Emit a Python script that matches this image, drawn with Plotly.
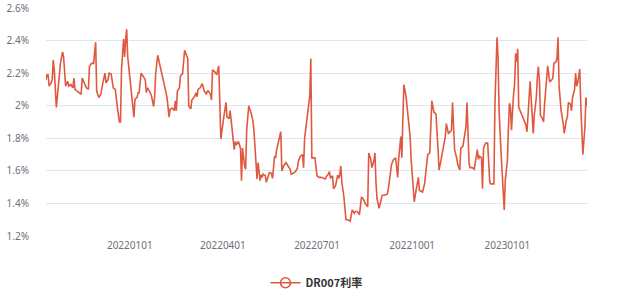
import pandas as pd
import plotly.graph_objects as go

# days since 2021-10-12 and DR007 rate (%)
base_date = "2021-10-12"
day_offsets = [
    0, 1, 2, 3, 5, 6, 7, 8, 10, 12, 14, 16, 17, 19, 21, 22, 24, 26, 27, 28,
    30, 33, 34, 35, 37, 39, 41, 42, 44, 46, 48, 49, 51, 53, 55, 57, 58, 60, 61, 63,
    65, 67, 69, 71, 72, 73, 75, 76, 77, 78, 79, 81, 83, 85, 86, 88, 89, 90, 92, 94,
    96, 97, 98, 99, 100,
    102, 104, 105, 106, 108, 110, 112, 114, 116, 117, 119, 120, 122, 124, 125, 126, 127, 129, 130, 132,
    134, 135, 137, 138, 139, 140, 141, 142, 144, 145, 146, 147, 149, 151, 153, 155, 156, 157, 159, 160,
    161, 163, 165, 167, 168, 169, 171, 172, 174, 175, 177, 178, 180, 182, 183, 184, 186, 188, 189, 190,
    192, 193, 194, 196, 198, 200, 201, 203, 204, 205, 207,
    208, 209, 210, 212, 213, 215, 216, 218, 219, 221, 222, 223, 225, 227, 228, 230, 232, 234, 236, 237,
    239, 241, 243, 244, 246, 248, 249, 250, 252, 253, 255, 256, 257, 259, 260, 262, 264, 266, 268, 270,
    271, 273, 274, 275, 277, 278, 280, 282, 283, 284, 285, 286, 288, 290, 292, 294, 296, 298, 299, 301,
    303, 304, 305, 307, 309, 311, 312,
    314, 315, 317, 318, 319, 320, 322, 324, 325, 327, 330, 331, 333, 334, 336, 338, 340, 341, 343, 344,
    345, 346, 348, 350, 352, 353, 355, 356, 358, 360, 361, 363, 364, 366, 368, 369, 371, 372, 373, 375,
    377, 379, 380, 382, 384, 386, 387, 389, 390, 392, 393, 395, 397, 398, 400, 401, 403, 404, 406, 407,
    409, 410, 412, 414, 415, 417, 418,
    419, 421, 422, 423, 425, 427, 428, 429, 430, 433, 434, 436, 437, 438, 440, 442, 443, 444, 446, 447,
    448, 449, 450, 452, 453, 454, 455, 456, 457, 459, 461, 462, 464, 465, 467, 468, 469, 471, 472, 474,
    475, 476, 477, 478, 480, 481, 482, 484, 485, 486, 487, 489, 490, 491, 493, 494, 495, 496, 498, 500,
    501, 503, 504, 505, 507, 508, 509, 511, 512, 513, 514, 515, 516, 517, 518, 519, 521, 522, 523,
]
dr007 = [
    2.16, 2.19, 2.19, 2.12, 2.14, 2.16, 2.28, 2.22, 1.99, 2.12, 2.26, 2.33, 2.30, 2.12, 2.15, 2.12, 2.13, 2.11, 2.17, 2.10,
    2.09, 2.08, 2.07, 2.17, 2.14, 2.11, 2.10, 2.24, 2.26, 2.26, 2.39, 2.09, 2.05, 2.07, 2.14, 2.20, 2.14, 2.16, 2.20, 2.195,
    2.11, 2.10, 1.99, 1.90, 1.90, 2.22, 2.41, 2.30, 2.41, 2.47, 2.30, 2.17, 2.05, 1.93, 2.04, 2.05, 2.08, 2.08, 2.20, 2.18,
    2.16, 2.08, 2.11, 2.10, 2.09,
    2.06, 1.995, 2.05, 2.195, 2.31, 2.26, 2.195, 2.14, 2.09, 2.05, 1.93, 1.98, 1.985, 1.97, 2.03, 1.97, 2.09, 2.11, 2.185, 2.195,
    2.34, 2.32, 2.29, 2.0, 1.99, 1.98, 2.035, 2.045, 2.06, 2.08, 2.055, 2.10, 2.11, 2.135, 2.09, 2.07, 2.09, 2.09, 2.07, 2.035,
    2.22, 2.21, 2.19, 2.245, 2.07, 1.795, 1.89, 1.93, 2.02, 1.93, 1.92, 1.97, 1.85, 1.73, 1.78, 1.76, 1.78, 1.74, 1.54, 1.74,
    1.63, 1.61, 1.85, 2.0, 1.96, 1.91, 1.85, 1.66, 1.55, 1.65, 1.54,
    1.575, 1.56, 1.58, 1.57, 1.53, 1.565, 1.59, 1.585, 1.554, 1.69, 1.68, 1.73, 1.78, 1.84, 1.60, 1.635, 1.65, 1.63, 1.61, 1.58,
    1.585, 1.595, 1.615, 1.66, 1.69, 1.70, 1.62, 1.80, 1.91, 1.955, 2.06, 2.29, 1.68, 1.68, 1.68, 1.57, 1.56, 1.56, 1.554, 1.55,
    1.565, 1.58, 1.595, 1.554, 1.57, 1.49, 1.51, 1.575, 1.554, 1.575, 1.63, 1.53, 1.44, 1.30, 1.30, 1.29, 1.36, 1.34, 1.35, 1.35,
    1.33, 1.38, 1.44, 1.425, 1.395, 1.38, 1.71,
    1.67, 1.62, 1.66, 1.71, 1.53, 1.43, 1.37, 1.42, 1.45, 1.45, 1.457, 1.49, 1.605, 1.64, 1.67, 1.68, 1.56, 1.68, 1.81, 1.68,
    1.92, 2.13, 2.06, 1.93, 1.81, 1.67, 1.52, 1.41, 1.49, 1.56, 1.48, 1.47, 1.47, 1.52, 1.67, 1.70, 1.71, 1.93, 2.03, 1.96,
    1.95, 1.73, 1.605, 1.67, 1.73, 1.81, 1.89, 1.83, 1.835, 1.85, 2.02, 1.73, 1.68, 1.64, 1.605, 1.74, 1.75, 1.80, 1.87, 2.02,
    1.645, 1.62, 1.62, 1.61, 1.66, 1.73, 1.67,
    1.69, 1.68, 1.49, 1.74, 1.77, 1.77, 1.67, 1.53, 1.52, 1.52, 2.01, 2.42, 2.30, 1.97, 1.70, 1.44, 1.36, 1.54, 1.66, 1.85,
    2.015, 1.99, 1.85, 2.07, 2.13, 2.32, 2.27, 2.35, 1.99, 1.96, 1.93, 1.91, 1.88, 1.84, 2.07, 2.15, 2.05, 1.83, 1.94, 2.05,
    2.175, 2.24, 2.155, 1.94, 1.92, 1.90, 2.01, 2.145, 2.245, 2.195, 2.145, 2.16, 2.17, 2.26, 2.27, 2.29, 2.42, 2.12, 1.97, 1.89,
    1.83, 1.91, 1.93, 2.02, 2.01, 1.97, 2.05, 2.10, 2.20, 2.12, 2.14, 2.18, 2.225, 2.00, 1.85, 1.70, 1.87, 2.05, 2.00,
]

x_tick_dates = ["2022-01-01", "2022-04-01", "2022-07-01", "2022-10-01", "2023-01-01"]
x_tick_labels = ["20220101", "20220401", "20220701", "20221001", "20230101"]
y_tick_vals = [1.2, 1.4, 1.6, 1.8, 2.0, 2.2, 2.4, 2.6]
y_tick_labels = ["1.2%", "1.4%", "1.6%", "1.8%", "2%", "2.2%", "2.4%", "2.6%"]
series_name = "DR007利率"

n = min(len(day_offsets), len(dr007))
dates = pd.Timestamp(base_date) + pd.to_timedelta(day_offsets[:n], unit="D")
vals = dr007[:n]

color = "#e0583f"
fig = go.Figure()
fig.add_trace(go.Scatter(x=dates, y=vals, mode="lines", line=dict(color=color, width=1.6),
                         showlegend=False, hoverinfo="skip"))
fig.add_trace(go.Scatter(x=[None], y=[None], mode="lines+markers", name=series_name,
                         line=dict(color=color, width=1.6),
                         marker=dict(symbol="circle-open", size=10, color=color, line=dict(width=1.6))))

fig.update_layout(
    width=640, height=299,
    margin=dict(l=46, r=53, t=8, b=63, autoexpand=False),
    plot_bgcolor="white", paper_bgcolor="white",
    font=dict(family="Noto Sans, sans-serif", size=10, color="#6E7079"),
    legend=dict(orientation="h", x=0.5, xanchor="center", y=-0.205, yanchor="middle",
                font=dict(family="Noto Sans CJK SC", size=11, color="#333333", weight="bold"),
                itemwidth=30),
    xaxis=dict(type="date", range=[dates[0], dates[-1]], tickvals=x_tick_dates, ticktext=x_tick_labels,
               showgrid=False, showline=False, zeroline=False, ticks="", ticklabelstandoff=2,
               automargin=False, tickfont=dict(size=10, color="#6E7079")),
    yaxis=dict(range=[1.2, 2.6], tickvals=y_tick_vals, ticktext=y_tick_labels,
               showgrid=True, gridcolor="#E0E6F1", gridwidth=1, zeroline=False, showline=False,
               automargin=False, ticks="", ticklabelstandoff=16, tickfont=dict(size=10, color="#6E7079")),
)

fig.write_html("out.html")
